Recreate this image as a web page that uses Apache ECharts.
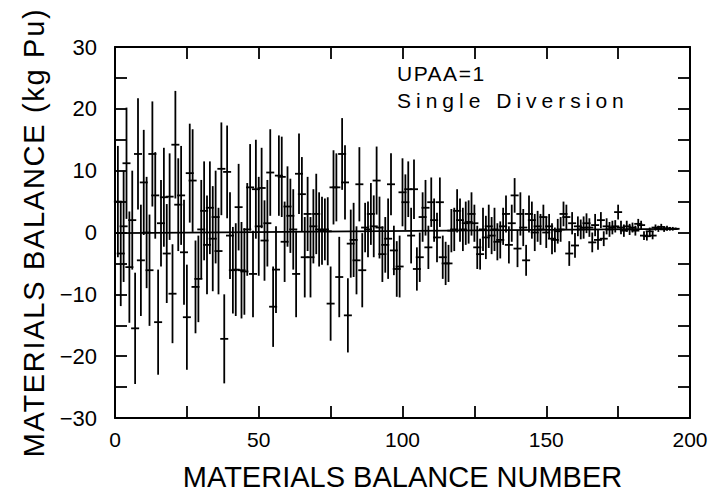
<!DOCTYPE html>
<html>
<head>
<meta charset="utf-8">
<script src="https://cdn.jsdelivr.net/npm/echarts@6/dist/echarts.min.js"></script>
<style>
html,body{margin:0;padding:0;background:#fff;}
#chart{width:717px;height:492px;}
</style>
</head>
<body>
<div id="chart"></div>
<script>
// Materials balance values (kg Pu), balance numbers 1..195
const balanceValues = [
  5.0,-3.4,1.0,11.2,-5.6,2.0,-15.5,12.7,-4.5,8.1,
  0.0,-6.1,12.7,6.0,-14.5,1.5,5.7,-3.4,5.8,-9.9,
  14.2,4.5,6.0,-3.2,-13.7,9.6,8.4,-8.8,-7.5,0.5,
  3.5,-2.0,4.0,-1.0,2.5,-3.0,10.3,-17.2,9.8,-0.5,
  -6.1,-6.0,4.1,-6.1,-6.3,0.5,7.3,-6.7,7.0,1.0,
  7.2,-1.3,1.5,9.7,-12.0,-6.0,9.2,9.0,-1.5,4.2,
  2.7,0.5,-6.7,9.5,6.2,-4.0,3.0,-4.0,1.0,3.0,
  0.5,0.3,0.5,0.2,-11.5,7.3,7.3,-7.2,12.7,8.1,
  -13.4,-1.8,-1.2,-4.5,7.8,-6.1,0.8,0.5,3.0,1.0,
  8.4,0.8,-3.5,-2.0,-1.0,7.8,-2.9,-5.9,-5.5,6.5,
  4.9,7.0,-0.5,7.0,-5.9,-4.0,2.5,4.0,-2.4,4.9,
  2.0,-0.8,4.9,-4.0,-5.0,-5.0,0.3,0.5,3.5,2.0,
  0.5,1.5,1.7,3.0,1.5,-2.4,-3.5,0.5,-0.8,1.0,
  -0.5,0.5,-1.5,-1.2,1.0,3.0,-2.0,1.5,6.0,-2.6,
  3.0,0.8,-4.5,3.0,2.0,0.0,1.0,0.5,2.5,0.0,
  1.0,-1.0,-1.2,0.2,0.5,3.0,2.5,-3.4,1.5,-2.1,
  1.0,0.5,0.8,1.5,0.8,-1.6,1.2,-1.2,2.0,-1.0,
  1.0,0.5,0.8,1.0,3.3,0.8,0.3,1.0,0.5,0.8,
  0.3,1.4,1.2,-0.5,-0.6,0.2,-0.5,0.8,0.6,0.9,
  0.5,0.7,0.6,0.6,0.6
];
// Estimated one-sigma error bar half-lengths (kg Pu)
const sigmaValues = [
  9.0,8.5,9.0,9.0,9.0,8.0,9.0,9.0,9.0,8.5,
  9.0,9.0,8.5,7.0,8.5,7.0,8.0,8.0,7.0,8.0,
  8.7,7.5,8.0,8.5,8.5,8.0,8.3,7.5,7.0,8.0,
  8.0,8.0,7.5,8.5,7.5,7.0,7.5,7.2,7.5,7.0,
  7.0,7.5,7.0,7.8,7.0,7.5,7.0,7.0,8.0,8.0,
  6.5,6.5,7.0,7.0,6.5,7.0,6.5,6.5,6.5,6.5,
  6.0,6.5,7.0,6.5,6.0,6.5,6.0,6.5,6.0,6.5,
  6.0,5.5,5.0,5.5,6.0,6.0,5.5,6.5,5.8,6.0,
  6.0,5.5,6.0,5.5,6.0,6.0,4.0,4.5,5.0,5.0,
  5.5,5.0,4.5,4.5,6.5,5.0,4.0,4.5,5.0,5.5,
  4.5,4.5,4.5,4.8,3.5,4.0,4.0,4.5,3.5,4.0,
  3.5,4.0,4.0,3.5,3.5,3.0,3.5,3.5,3.5,3.5,
  3.5,3.5,3.5,3.5,3.0,3.5,2.5,3.5,3.5,3.5,
  3.0,3.5,3.0,3.0,3.0,3.0,3.0,3.0,2.8,3.0,
  3.5,3.0,2.5,3.0,3.0,3.0,2.5,2.5,2.0,2.5,
  2.0,2.5,2.0,2.0,2.0,2.0,2.0,2.0,1.8,2.0,
  1.6,1.6,1.8,1.6,1.5,1.6,1.8,1.6,1.3,1.2,
  1.3,1.2,1.1,1.0,1.2,1.1,1.0,0.9,0.9,0.8,
  0.8,0.8,0.7,0.7,0.7,0.6,0.6,0.5,0.5,0.5,
  0.4,0.4,0.3,0.3,0.2
];
// Cumulative reference line end points [balance number, kg Pu]
const trendLine = [[0, -0.1], [196, 0.6]];

const xTicks = { min: 0, max: 200, interval: 50 };
const yTicks = { min: -30, max: 30, interval: 10 };
const xTitle = 'MATERIALS BALANCE NUMBER';
const yTitle = 'MATERIALS BALANCE (kg Pu)';
const noteLines = ['UPAA=1', 'Single Diversion'];

const pts = balanceValues.map((v, i) => [i + 1, v, sigmaValues[i]]);

const FONT = '"Liberation Sans", Arial, sans-serif';
const chart = echarts.init(document.getElementById('chart'), null, { renderer: 'svg' });

const tickCommon = { show: true, inside: true, length: 12, lineStyle: { color: '#000', width: 1.8 } };
const minorCommon = { show: true, splitNumber: 2, length: 12, lineStyle: { color: '#000', width: 1.8 } };
const lineCommon = { show: true, onZero: false, lineStyle: { color: '#000', width: 2 } };

function fmtY(v) { return v < 0 ? '\u2212' + Math.abs(v) : String(v); }

chart.setOption({
  animation: false,
  backgroundColor: '#fff',
  grid: { left: 115, right: 27, top: 47, bottom: 74, containLabel: false, outerBoundsMode: 'none' },
  xAxis: [
    {
      type: 'value', min: xTicks.min, max: xTicks.max, interval: xTicks.interval,
      position: 'bottom',
      axisLine: lineCommon, axisTick: tickCommon, minorTick: minorCommon,
      splitLine: { show: false },
      axisLabel: { color: '#000', fontFamily: FONT, fontSize: 21, margin: 11 },
      name: xTitle, nameLocation: 'middle', nameGap: 44,
      nameTextStyle: { color: '#000', fontFamily: FONT, fontSize: 29 }
    },
    {
      type: 'value', min: xTicks.min, max: xTicks.max, interval: xTicks.interval,
      position: 'top',
      axisLine: lineCommon, axisTick: tickCommon, minorTick: minorCommon,
      splitLine: { show: false }, axisLabel: { show: false }
    }
  ],
  yAxis: [
    {
      type: 'value', min: yTicks.min, max: yTicks.max, interval: yTicks.interval,
      position: 'left',
      axisLine: lineCommon, axisTick: tickCommon, minorTick: minorCommon,
      splitLine: { show: false },
      axisLabel: { color: '#000', fontFamily: FONT, fontSize: 22, margin: 18, formatter: fmtY },
      name: yTitle, nameLocation: 'middle', nameGap: 67,
      nameTextStyle: { color: '#000', fontFamily: FONT, fontSize: 29 }
    },
    {
      type: 'value', min: yTicks.min, max: yTicks.max, interval: yTicks.interval,
      position: 'right',
      axisLine: lineCommon, axisTick: tickCommon, minorTick: minorCommon,
      splitLine: { show: false }, axisLabel: { show: false }
    }
  ],
  graphic: [
    { type: 'text', left: 397, top: 63, style: { text: noteLines[0], fill: '#000', font: '21px ' + FONT } },
    { type: 'text', left: 397, top: 90, style: { text: noteLines[1], fill: '#000', font: '21px ' + FONT } }
  ],
  series: [
    {
      type: 'line', xAxisIndex: 0, yAxisIndex: 0, data: trendLine,
      symbol: 'none', lineStyle: { color: '#000', width: 1.8 }, silent: true, z: 2
    },
    {
      type: 'custom', xAxisIndex: 0, yAxisIndex: 0, data: pts, z: 3,
      renderItem: function (params, api) {
        const x = api.value(0), v = api.value(1), s = api.value(2);
        const c = api.coord([x, v]);
        const top = api.coord([x, v + s]);
        const bot = api.coord([x, v - s]);
        const st = { stroke: '#000', lineWidth: 1.8 };
        return {
          type: 'group',
          children: [
            { type: 'line', shape: { x1: c[0], y1: top[1], x2: c[0], y2: bot[1] }, style: st },
            { type: 'line', shape: { x1: c[0] - 4, y1: c[1], x2: c[0] + 4, y2: c[1] }, style: st }
          ]
        };
      }
    }
  ]
});

function applySpacing() {
  const sp = {};
  sp[yTitle] = 1.7;
  sp[noteLines[0]] = 1.5;
  sp[noteLines[1]] = 5;
  document.querySelectorAll('#chart svg text').forEach(t => {
    const k = t.textContent;
    if (sp[k] != null) t.setAttribute('letter-spacing', sp[k] + 'px');
  });
}
applySpacing();
chart.on('finished', applySpacing);
</script>
</body>
</html>
